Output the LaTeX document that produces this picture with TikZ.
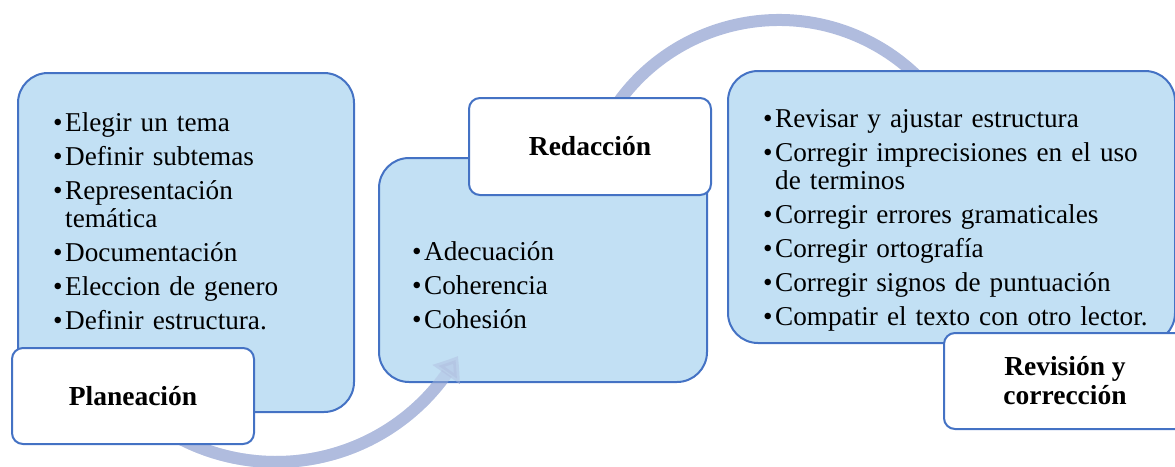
\documentclass[tikz,border=0pt]{standalone}
\usepackage{fontspec}
\setmainfont{Liberation Serif}
\usetikzlibrary{arrows.meta,bending}
\definecolor{boxfill}{HTML}{C2E0F4}
\definecolor{boxline}{HTML}{4472C4}
\definecolor{arrowcol}{HTML}{B0BCDE}
\newcommand{\bul}{\makebox[12pt][l]{•}}
\newcommand{\hang}{\hspace*{12pt}}
\tikzset{
  bluebox/.style={draw=boxline, fill=boxfill, line width=2pt, rounded corners=30pt, inner sep=0pt},
  whitebox/.style={draw=boxline, fill=white, line width=2pt, rounded corners=11pt, inner sep=0pt},
  bodytext/.style={anchor=north west, inner sep=0pt, align=left, font=\fontsize{27.2}{28}\selectfont},
  labeltext/.style={inner sep=0pt, align=center, font=\bfseries\fontsize{27.5}{29}\selectfont},
  flowarrow/.style={draw=arrowcol, line width=12pt, -{Triangle[length=22pt,width=32pt,bend]}}
}
\begin{document}
\begin{tikzpicture}[x=1pt,y=-1pt]
\useasboundingbox (0,0) rectangle (1175,466);
% coordinates for arcs
\coordinate (bstart) at ({276+209*cos(125)},{253+209*sin(125)});
\coordinate (tstart) at ({779+198*cos(210)},{218+198*sin(210)});
% arrows (behind)
\draw[flowarrow] (bstart) arc[start angle=125, end angle=29.5, radius=209];
\draw[flowarrow] (tstart) arc[start angle=210, end angle=338, radius=198];
% content boxes
\node[bluebox, minimum width=336pt, minimum height=339pt] (planbox) at (186,242.5) {};
\node[bluebox, minimum width=328pt, minimum height=224pt] (redbox) at (543,270) {};
\node[bluebox, minimum width=447pt, minimum height=272pt] (revbox) at (951.5,207) {};
% faint overlay of bottom arrow head over box
\draw[flowarrow, opacity=0.45] (bstart) arc[start angle=125, end angle=29.5, radius=209];
% label boxes
\node[whitebox, minimum width=242pt, minimum height=96pt] (planlab) at (133,396) {};
\node[whitebox, minimum width=242pt, minimum height=97pt] (redlab) at (590,146.5) {};
\node[whitebox, minimum width=242pt, minimum height=96pt] (revlab) at (1065,381) {};
% texts
\node[bodytext, text width=260pt] (plantext) at (53,111.4) {\strut\bul Elegir un tema\\[6pt]
\bul Definir subtemas\\[6pt]
\bul Representación\\
\hang temática\\[6pt]
\bul Documentación\\[6pt]
\bul Eleccion de genero\\[6pt]
\bul Definir estructura.};
\node[bodytext, text width=250pt] (redtext) at (412,240.4) {\strut\bul Adecuación\\[6pt]
\bul Coherencia\\[6pt]
\bul Cohesión};
\node[bodytext, text width=400pt] (revtext) at (763,107.4) {\strut\bul Revisar y ajustar estructura\\[6pt]
\bul Corregir imprecisiones en el uso\\
\hang de terminos\\[6pt]
\bul Corregir errores gramaticales\\[6pt]
\bul Corregir ortografía\\[6pt]
\bul Corregir signos de puntuación\\[6pt]
\bul Compatir el texto con otro lector.};
\node[labeltext] (plantitle) at (planlab.center) {Planeación};
\node[labeltext] (redtitle) at (redlab.center) {Redacción};
\node[labeltext] (revtitle) at (revlab.center) {Revisión y\\corrección};
\end{tikzpicture}
\end{document}
